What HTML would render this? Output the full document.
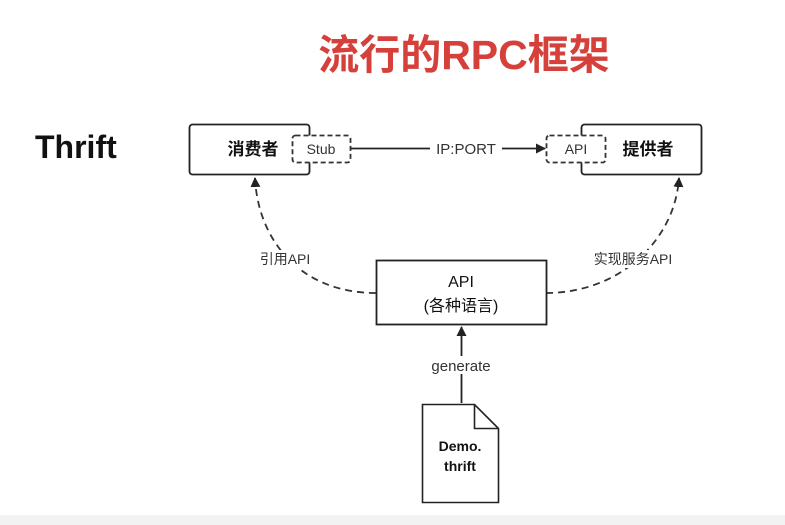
<!DOCTYPE html>
<html><head><meta charset="utf-8"><style>
html,body{margin:0;padding:0;background:#fff;}
body{width:785px;height:525px;overflow:hidden;position:relative;}
</style></head><body>
<svg width="785" height="525" viewBox="0 0 785 525" xmlns="http://www.w3.org/2000/svg" style="position:absolute;left:0;top:0">
<defs>
<marker id="ah" markerWidth="10" markerHeight="10" refX="9" refY="5" orient="auto" markerUnits="userSpaceOnUse">
<path d="M0,0 L10,5 L0,10 z" fill="#222"/>
</marker>
</defs>
<rect x="0" y="515" width="785" height="10" fill="#f2f2f2"/>
<text x="464" y="69" text-anchor="middle" font-family="Liberation Sans, Noto Sans CJK SC, sans-serif" font-weight="bold" font-size="41" fill="#d6403b">流行的RPC框架</text>
<text x="35" y="158" font-family="Liberation Sans, sans-serif" font-weight="bold" font-size="32" fill="#111">Thrift</text>
<g font-family="Liberation Sans, Noto Sans CJK SC, sans-serif" fill="#111">
<rect x="189.5" y="124.5" width="120" height="50" rx="3" fill="#fff" stroke="#222" stroke-width="1.8"/>
<rect x="292.5" y="135.5" width="58" height="27" rx="3" fill="#fff" stroke="#333" stroke-width="1.8" stroke-dasharray="5,3"/>
<text x="253" y="155" text-anchor="middle" font-size="17" font-weight="bold">消费者</text>
<text x="321" y="154" text-anchor="middle" font-size="14" fill="#333">Stub</text>
<rect x="581.5" y="124.5" width="120" height="50" rx="3" fill="#fff" stroke="#222" stroke-width="1.8"/>
<rect x="546.5" y="135.5" width="59" height="27" rx="3" fill="#fff" stroke="#333" stroke-width="1.8" stroke-dasharray="5,3"/>
<text x="576" y="154" text-anchor="middle" font-size="14" fill="#333">API</text>
<text x="648" y="155" text-anchor="middle" font-size="17" font-weight="bold">提供者</text>
<line x1="351" y1="148.5" x2="545" y2="148.5" stroke="#222" stroke-width="1.8" marker-end="url(#ah)"/>
<rect x="430" y="140" width="72" height="16" fill="#fff"/>
<text x="466" y="154" text-anchor="middle" font-size="15" fill="#333">IP:PORT</text>
<path d="M376,293 C300,293 258,240 255,178" fill="none" stroke="#333" stroke-width="1.8" stroke-dasharray="7,5" marker-end="url(#ah)"/>
<path d="M546,293 C620,293 675,240 679,178" fill="none" stroke="#333" stroke-width="1.8" stroke-dasharray="7,5" marker-end="url(#ah)"/>
<rect x="250" y="250" width="70" height="18" fill="#fff"/>
<text x="285" y="264" text-anchor="middle" font-size="14" fill="#333">引用API</text>
<rect x="583" y="250" width="100" height="18" fill="#fff"/>
<text x="633" y="264" text-anchor="middle" font-size="14" fill="#333">实现服务API</text>
<rect x="376.5" y="260.5" width="170" height="64" fill="#fff" stroke="#222" stroke-width="1.8"/>
<text x="461" y="287" text-anchor="middle" font-size="16">API</text>
<text x="461" y="311" text-anchor="middle" font-size="16">(各种语言)</text>
<line x1="461.5" y1="403" x2="461.5" y2="327" stroke="#222" stroke-width="1.8" marker-end="url(#ah)"/>
<rect x="420" y="356" width="82" height="18" fill="#fff"/>
<text x="461" y="371" text-anchor="middle" font-size="15" fill="#333">generate</text>
<path d="M422.5,404.5 L474.5,404.5 L498.5,428.5 L498.5,502.5 L422.5,502.5 Z" fill="#fff" stroke="#222" stroke-width="1.6"/>
<path d="M474.5,404.5 L474.5,428.5 L498.5,428.5" fill="none" stroke="#222" stroke-width="1.6"/>
<text x="460" y="451" text-anchor="middle" font-size="14" font-weight="bold">Demo.</text>
<text x="460" y="471" text-anchor="middle" font-size="14" font-weight="bold">thrift</text>
</g>
</svg>
</body></html>
